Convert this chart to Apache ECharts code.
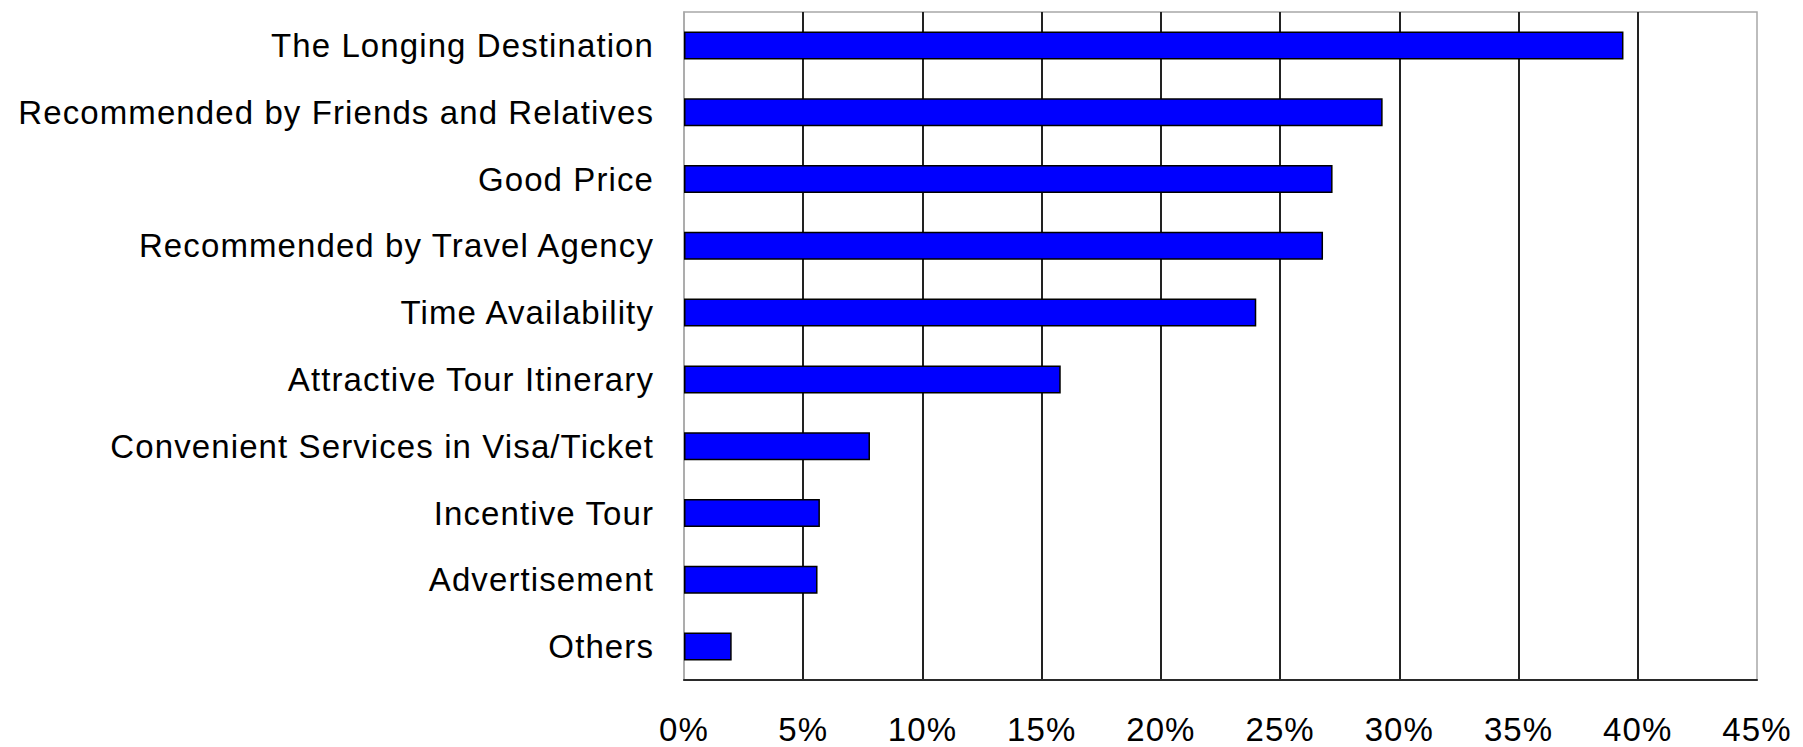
<!DOCTYPE html>
<html>
<head>
<meta charset="utf-8">
<script src="https://cdn.jsdelivr.net/npm/echarts@6/dist/echarts.min.js"></script>
<style>
  html, body { margin: 0; padding: 0; background: #ffffff; }
  #chart { width: 1803px; height: 747px; }
  #chart svg text { letter-spacing: 1.1px; }
</style>
</head>
<body>
<div id="chart"></div>
<script>
// Reasons for choosing a tour (share of respondents, %)
const categories = [
  'The Longing Destination',
  'Recommended by Friends and Relatives',
  'Good Price',
  'Recommended by Travel Agency',
  'Time Availability',
  'Attractive Tour Itinerary',
  'Convenient Services in Visa/Ticket',
  'Incentive Tour',
  'Advertisement',
  'Others'
];
const shares = [39.4, 29.3, 27.2, 26.8, 24.0, 15.8, 7.8, 5.7, 5.6, 2.0];
const axisMin = 0;
const axisMax = 45;
const axisStep = 5;

const chart = echarts.init(document.getElementById('chart'), null, { renderer: 'svg' });

const fontFamily = '"Liberation Sans", Arial, sans-serif';

chart.setOption({
  animation: false,
  backgroundColor: '#ffffff',
  grid: {
    left: 684,
    top: 12,
    width: 1073,
    height: 668,
    show: true,
    borderColor: '#a8a8a8',
    borderWidth: 1.5,
    containLabel: false
  },
  xAxis: {
    type: 'value',
    min: axisMin,
    max: axisMax,
    interval: axisStep,
    axisLine: { show: true, lineStyle: { color: '#2a2a2a', width: 2 } },
    axisTick: { show: false },
    axisLabel: {
      formatter: '{value}%',
      color: '#000000',
      fontSize: 33,
      fontFamily: fontFamily,
      margin: 33
    },
    splitLine: {
      show: true,
      showMinLine: false,
      showMaxLine: false,
      lineStyle: { color: '#222222', width: 2 }
    }
  },
  yAxis: {
    type: 'category',
    data: categories,
    inverse: true,
    axisLine: { show: true, lineStyle: { color: '#a8a8a8', width: 1.5 } },
    axisTick: { show: false },
    axisLabel: {
      interval: 0,
      color: '#000000',
      fontSize: 33,
      fontFamily: fontFamily,
      margin: 30
    },
    splitLine: { show: false }
  },
  series: [{
    type: 'bar',
    data: shares,
    barWidth: 28,
    itemStyle: {
      color: '#0000ff',
      borderColor: '#000000',
      borderWidth: 1.5
    }
  }]
});
</script>
</body>
</html>
